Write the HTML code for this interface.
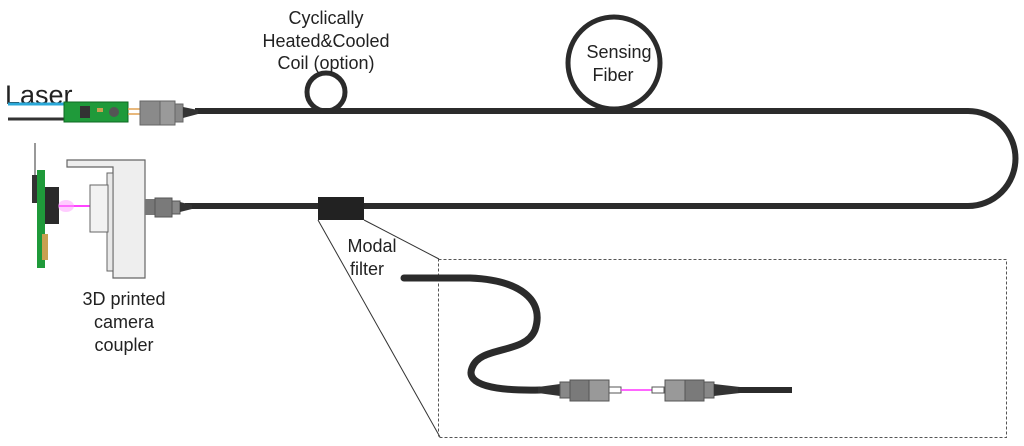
<!DOCTYPE html>
<html><head><meta charset="utf-8"><style>
html,body{margin:0;padding:0;background:#fff;}
svg{display:block;font-family:"Liberation Sans",Arial,sans-serif;}
</style></head><body>
<svg width="1024" height="446" viewBox="0 0 1024 446" xmlns="http://www.w3.org/2000/svg">
<rect width="1024" height="446" fill="#fff"/>
<!-- main fiber loop -->
<path d="M195 111 H968 A47 47 0 0 1 968 206 H185" fill="none" stroke="#2b2b2b" stroke-width="6"/>
<circle cx="326" cy="92" r="19" fill="none" stroke="#2b2b2b" stroke-width="5"/>
<circle cx="614" cy="63" r="46" fill="none" stroke="#2b2b2b" stroke-width="5"/>
<!-- laser -->
<text x="5" y="104" font-size="27" fill="#222">Laser</text>
<line x1="8" y1="104" x2="68" y2="104" stroke="#2aa8d8" stroke-width="3"/>
<line x1="8" y1="119" x2="68" y2="119" stroke="#333" stroke-width="3"/>
<rect x="64" y="102" width="64" height="20" fill="#1f9a3a" stroke="#0e6a22"/>
<rect x="80" y="106" width="10" height="12" fill="#333"/>
<circle cx="114" cy="112" r="5" fill="#555"/>
<rect x="97" y="108" width="6" height="4" fill="#c9a050"/>
<line x1="128" y1="109" x2="140" y2="109" stroke="#e0a050" stroke-width="1.5"/>
<line x1="128" y1="114" x2="140" y2="114" stroke="#e0a050" stroke-width="1.5"/>
<rect x="140" y="101" width="20" height="24" fill="#8a8a8a" stroke="#666"/>
<rect x="160" y="101" width="15" height="24" fill="#9a9a9a" stroke="#666"/>
<rect x="175" y="104" width="8" height="18" fill="#888" stroke="#666"/>
<polygon points="183,107 198,110 198,114 183,118" fill="#333"/>
<!-- labels top -->
<g font-size="18" fill="#222" text-anchor="middle">
<text x="326" y="24">Cyclically</text>
<text x="326" y="47">Heated&amp;Cooled</text>
<text x="326" y="69">Coil (option)</text>
<text x="619" y="58">Sensing</text>
<text x="613" y="81">Fiber</text>
<text x="124" y="305">3D printed</text>
<text x="124" y="328">camera</text>
<text x="124" y="351">coupler</text>
<text x="372" y="252">Modal</text>
<text x="367" y="275">filter</text>
</g>
<!-- camera & coupler -->
<line x1="35" y1="143" x2="35" y2="178" stroke="#999" stroke-width="2"/>
<rect x="32" y="175" width="6" height="28" fill="#333"/>
<rect x="37" y="170" width="8" height="98" fill="#1f9a3a"/>
<rect x="42" y="234" width="6" height="26" fill="#c9a050"/>
<rect x="45" y="187" width="14" height="37" fill="#2a2a2a"/>
<line x1="59" y1="206" x2="90" y2="206" stroke="#ff44ff" stroke-width="2"/>
<ellipse cx="66" cy="206" rx="8" ry="6" fill="#ff99ff" opacity="0.5"/>
<path d="M67 160 H145 V278 H113 V167 H67 Z" fill="#eee" stroke="#666" stroke-width="1.2"/>
<rect x="107" y="173" width="6" height="98" fill="#e8e8e8" stroke="#666" stroke-width="1"/>
<rect x="90" y="185" width="18" height="47" fill="#f2f2f2" stroke="#666" stroke-width="1"/>
<rect x="145" y="199" width="10" height="16" fill="#777"/>
<rect x="155" y="198" width="17" height="19" fill="#7a7a7a" stroke="#555"/>
<rect x="172" y="201" width="8" height="13" fill="#888" stroke="#555"/>
<polygon points="180,202 192,205 192,209 180,212" fill="#333"/>
<!-- modal filter -->
<rect x="318" y="197" width="46" height="23" fill="#222"/>
<line x1="318" y1="220" x2="440" y2="437" stroke="#333" stroke-width="1"/>
<line x1="364" y1="220" x2="439" y2="259" stroke="#333" stroke-width="1"/>
<rect x="438.5" y="259.5" width="568" height="178" fill="none" stroke="#555" stroke-width="1" stroke-dasharray="3,2"/>
<!-- inset fiber -->
<path d="M404 278 H470 C520 280 545 300 535 330 C525 355 480 345 472 368 C465 385 495 391 540 390" fill="none" stroke="#2b2b2b" stroke-width="7" stroke-linecap="round"/>
<polygon points="538,387 560,384 560,396 538,393" fill="#333"/>
<rect x="560" y="382" width="10" height="16" fill="#888" stroke="#555"/>
<rect x="570" y="380" width="19" height="21" fill="#7a7a7a" stroke="#555"/>
<rect x="589" y="380" width="20" height="21" fill="#999" stroke="#555"/>
<rect x="609" y="387" width="12" height="6" fill="#fff" stroke="#555"/>
<line x1="621" y1="390" x2="652" y2="390" stroke="#ff33ff" stroke-width="1.5"/>
<rect x="652" y="387" width="12" height="6" fill="#fff" stroke="#555"/>
<rect x="665" y="380" width="20" height="21" fill="#999" stroke="#555"/>
<rect x="685" y="380" width="19" height="21" fill="#7a7a7a" stroke="#555"/>
<rect x="704" y="382" width="10" height="16" fill="#888" stroke="#555"/>
<polygon points="714,384 740,387 740,393 714,396" fill="#333"/>
<line x1="738" y1="390" x2="792" y2="390" stroke="#2b2b2b" stroke-width="6"/>
</svg>
</body></html>
